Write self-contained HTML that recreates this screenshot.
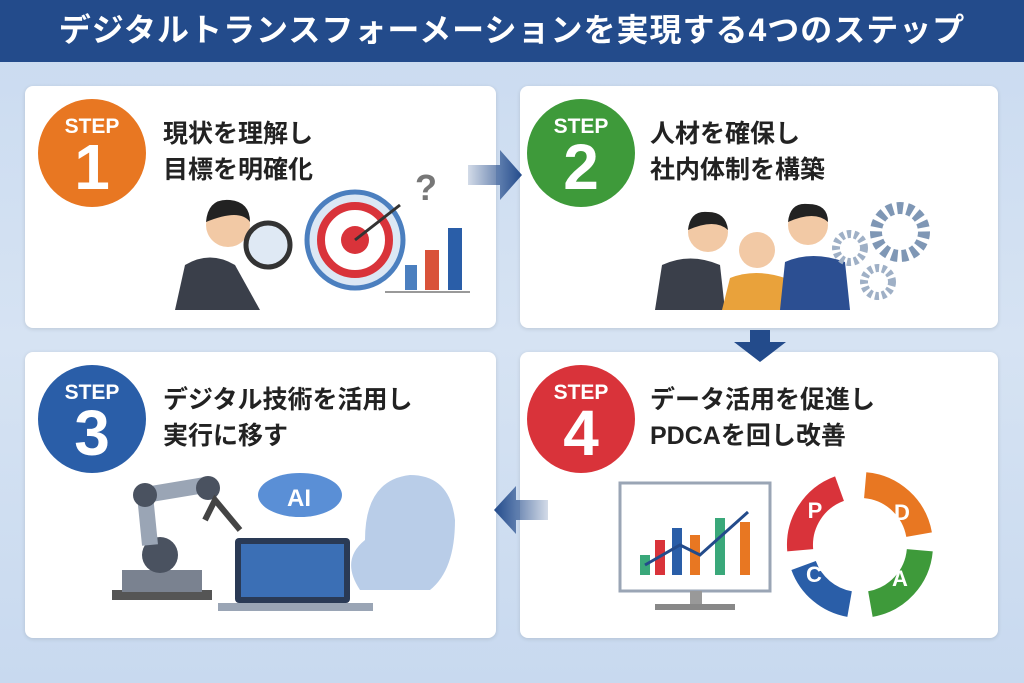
<!DOCTYPE html>
<html><head><meta charset="utf-8"><style>
*{margin:0;padding:0;box-sizing:border-box}
body{width:1024px;height:683px;overflow:hidden;background:linear-gradient(180deg,#c9daf0,#d6e3f3 50%,#c8d9ef);font-family:"Liberation Sans","Noto Sans CJK JP",sans-serif;position:relative}
.title{position:absolute;left:0;top:0;width:1024px;height:62px;background:#234b8b;color:#fff;font-weight:bold;font-size:32px;text-align:center;line-height:60px;letter-spacing:1px}
.card{position:absolute;background:#fff;border-radius:8px;box-shadow:0 1px 4px rgba(0,0,0,.12)}
.circ{position:absolute;width:108px;height:108px;border-radius:50%;color:#fff;text-align:center;font-weight:bold}
.circ .s{position:absolute;top:16px;width:100%;font-size:21px}
.circ .n{position:absolute;top:36px;width:100%;font-size:64px;line-height:64px}
.t{position:absolute;font-size:25px;font-weight:bold;color:#222;line-height:36px}
svg{position:absolute}
</style></head><body>
<div class="title">デジタルトランスフォーメーションを実現する4つのステップ</div>

<div class="card" style="left:25px;top:86px;width:471px;height:242px"></div>
<div class="card" style="left:520px;top:86px;width:478px;height:242px"></div>
<div class="card" style="left:25px;top:352px;width:471px;height:286px"></div>
<div class="card" style="left:520px;top:352px;width:478px;height:286px"></div>

<div class="circ" style="left:38px;top:99px;background:#e87722"><div class="s">STEP</div><div class="n">1</div></div>
<div class="circ" style="left:527px;top:99px;background:#3e9a3a"><div class="s">STEP</div><div class="n">2</div></div>
<div class="circ" style="left:38px;top:365px;background:#2a5ea8"><div class="s">STEP</div><div class="n">3</div></div>
<div class="circ" style="left:527px;top:365px;background:#d9333a"><div class="s">STEP</div><div class="n">4</div></div>

<div class="t" style="left:163px;top:116px">現状を理解し<br>目標を明確化</div>
<div class="t" style="left:650px;top:116px">人材を確保し<br>社内体制を構築</div>
<div class="t" style="left:163px;top:382px">デジタル技術を活用し<br>実行に移す</div>
<div class="t" style="left:650px;top:382px">データ活用を促進し<br>PDCAを回し改善</div>

<svg width="1024" height="683" style="left:0;top:0">
<defs><linearGradient id="ga" x1="0" x2="1"><stop offset="0" stop-color="#234b8b" stop-opacity=".2"/><stop offset="1" stop-color="#234b8b"/></linearGradient>
<linearGradient id="gb" x1="1" x2="0"><stop offset="0" stop-color="#234b8b" stop-opacity=".2"/><stop offset="1" stop-color="#234b8b"/></linearGradient></defs>
<polygon points="468,165 500,165 500,150 522,175 500,200 500,185 468,185" fill="url(#ga)"/>
<polygon points="750,330 770,330 770,342 786,342 760,362 734,342 750,342" fill="#234b8b"/>
<polygon points="548,500 516,500 516,486 494,510 516,534 516,520 548,520" fill="url(#gb)"/>
<!-- step1 illus -->
<path d="M175,310 L185,265 Q210,250 235,265 L260,310Z" fill="#3a3f4a"/>
<circle cx="228" cy="225" r="22" fill="#f2c9a5"/><path d="M206,222 Q208,198 230,200 Q250,202 250,222 Q240,208 206,222Z" fill="#222"/>
<circle cx="268" cy="245" r="22" fill="#dfe9f4" stroke="#333" stroke-width="5"/>
<circle cx="355" cy="240" r="48" fill="#dbe7f4" stroke="#4b7fbf" stroke-width="5"/>
<circle cx="355" cy="240" r="34" fill="#fff" stroke="#d9333a" stroke-width="8"/>
<circle cx="355" cy="240" r="14" fill="#d9333a"/>
<line x1="355" y1="240" x2="400" y2="205" stroke="#333" stroke-width="3"/>
<text x="415" y="200" font-size="36" font-weight="bold" fill="#777" font-family="Liberation Sans">?</text>
<rect x="405" y="265" width="12" height="25" fill="#4b7fbf"/><rect x="425" y="250" width="14" height="40" fill="#d9533a"/><rect x="448" y="228" width="14" height="62" fill="#2a5ea8"/>
<line x1="385" y1="292" x2="470" y2="292" stroke="#999" stroke-width="2"/>
<!-- step2 illus -->
<path d="M655,310 L662,265 Q690,252 720,265 L725,310Z" fill="#3a3f4a"/><circle cx="708" cy="232" r="20" fill="#f2c9a5"/><path d="M688,230 Q690,210 708,212 Q726,212 728,230 Q715,218 688,230Z" fill="#222"/>
<path d="M722,310 L730,278 Q755,268 785,278 L795,310Z" fill="#e9a23b"/><circle cx="757" cy="250" r="18" fill="#f2c9a5"/>
<path d="M780,310 L785,262 Q812,250 845,262 L850,310Z" fill="#2c4f92"/><circle cx="808" cy="225" r="20" fill="#f2c9a5"/><path d="M788,222 Q790,202 808,204 Q828,204 828,222 Q815,210 788,222Z" fill="#222"/>
<circle cx="900" cy="232" r="24" fill="none" stroke="#7f97b5" stroke-width="12" stroke-dasharray="6 4"/>
<circle cx="850" cy="248" r="14" fill="none" stroke="#9fb0c6" stroke-width="8" stroke-dasharray="4 3"/>
<circle cx="878" cy="282" r="14" fill="none" stroke="#9fb0c6" stroke-width="8" stroke-dasharray="4 3"/>
<!-- step3 illus -->
<rect x="112" y="590" width="100" height="10" fill="#555"/><rect x="122" y="570" width="80" height="22" fill="#7a8290"/>
<circle cx="160" cy="555" r="18" fill="#4a5260"/>
<path d="M150,545 L145,495 L205,485" stroke="#9aa5b5" stroke-width="16" fill="none"/>
<circle cx="145" cy="495" r="12" fill="#4a5260"/><circle cx="208" cy="488" r="12" fill="#4a5260"/>
<path d="M205,520 L215,500 L240,530" stroke="#444" stroke-width="6" fill="none"/>
<ellipse cx="300" cy="495" rx="42" ry="22" fill="#5a8fd6"/><text x="287" y="506" font-size="24" font-weight="bold" fill="#fff" font-family="Liberation Sans">AI</text>
<rect x="235" y="538" width="115" height="65" rx="4" fill="#2a3a55"/><rect x="241" y="544" width="103" height="53" fill="#3b6fb5"/>
<rect x="218" y="603" width="155" height="8" fill="#9aa5b5"/>
<path d="M360,590 Q340,560 365,540 Q365,480 410,475 Q450,475 455,520 Q455,570 430,590Z" fill="#b9cde8"/>
<!-- step4 illus -->
<rect x="620" y="483" width="150" height="108" fill="#fff" stroke="#9aa5b5" stroke-width="3"/>
<rect x="690" y="591" width="12" height="15" fill="#999"/><rect x="655" y="604" width="80" height="6" fill="#888"/>
<rect x="640" y="555" width="10" height="20" fill="#3aa87a"/><rect x="655" y="540" width="10" height="35" fill="#d9333a"/><rect x="672" y="528" width="10" height="47" fill="#2a5ea8"/><rect x="690" y="535" width="10" height="40" fill="#e87722"/><rect x="715" y="518" width="10" height="57" fill="#3aa87a"/><rect x="740" y="522" width="10" height="53" fill="#e87722"/>
<polyline points="645,565 680,545 700,555 748,512" stroke="#234b8b" stroke-width="3" fill="none"/>
<path d="M800.2,550.2 A60,60 0 0 1 839.5,488.6" stroke="#d9333a" stroke-width="26" fill="none"/>
<path d="M865.2,485.2 A60,60 0 0 1 919.1,534.6" stroke="#e87722" stroke-width="26" fill="none"/>
<path d="M919.8,550.2 A60,60 0 0 1 870.4,604.1" stroke="#3e9a3a" stroke-width="26" fill="none"/>
<path d="M849.6,604.1 A60,60 0 0 1 803.6,565.5" stroke="#2a5ea8" stroke-width="26" fill="none"/>
<g font-family="Liberation Sans" font-weight="bold" font-size="22" fill="#fff" text-anchor="middle">
<text x="815" y="518">P</text><text x="902" y="520">D</text><text x="900" y="586">A</text><text x="814" y="582">C</text></g>
</svg>
</body></html>
